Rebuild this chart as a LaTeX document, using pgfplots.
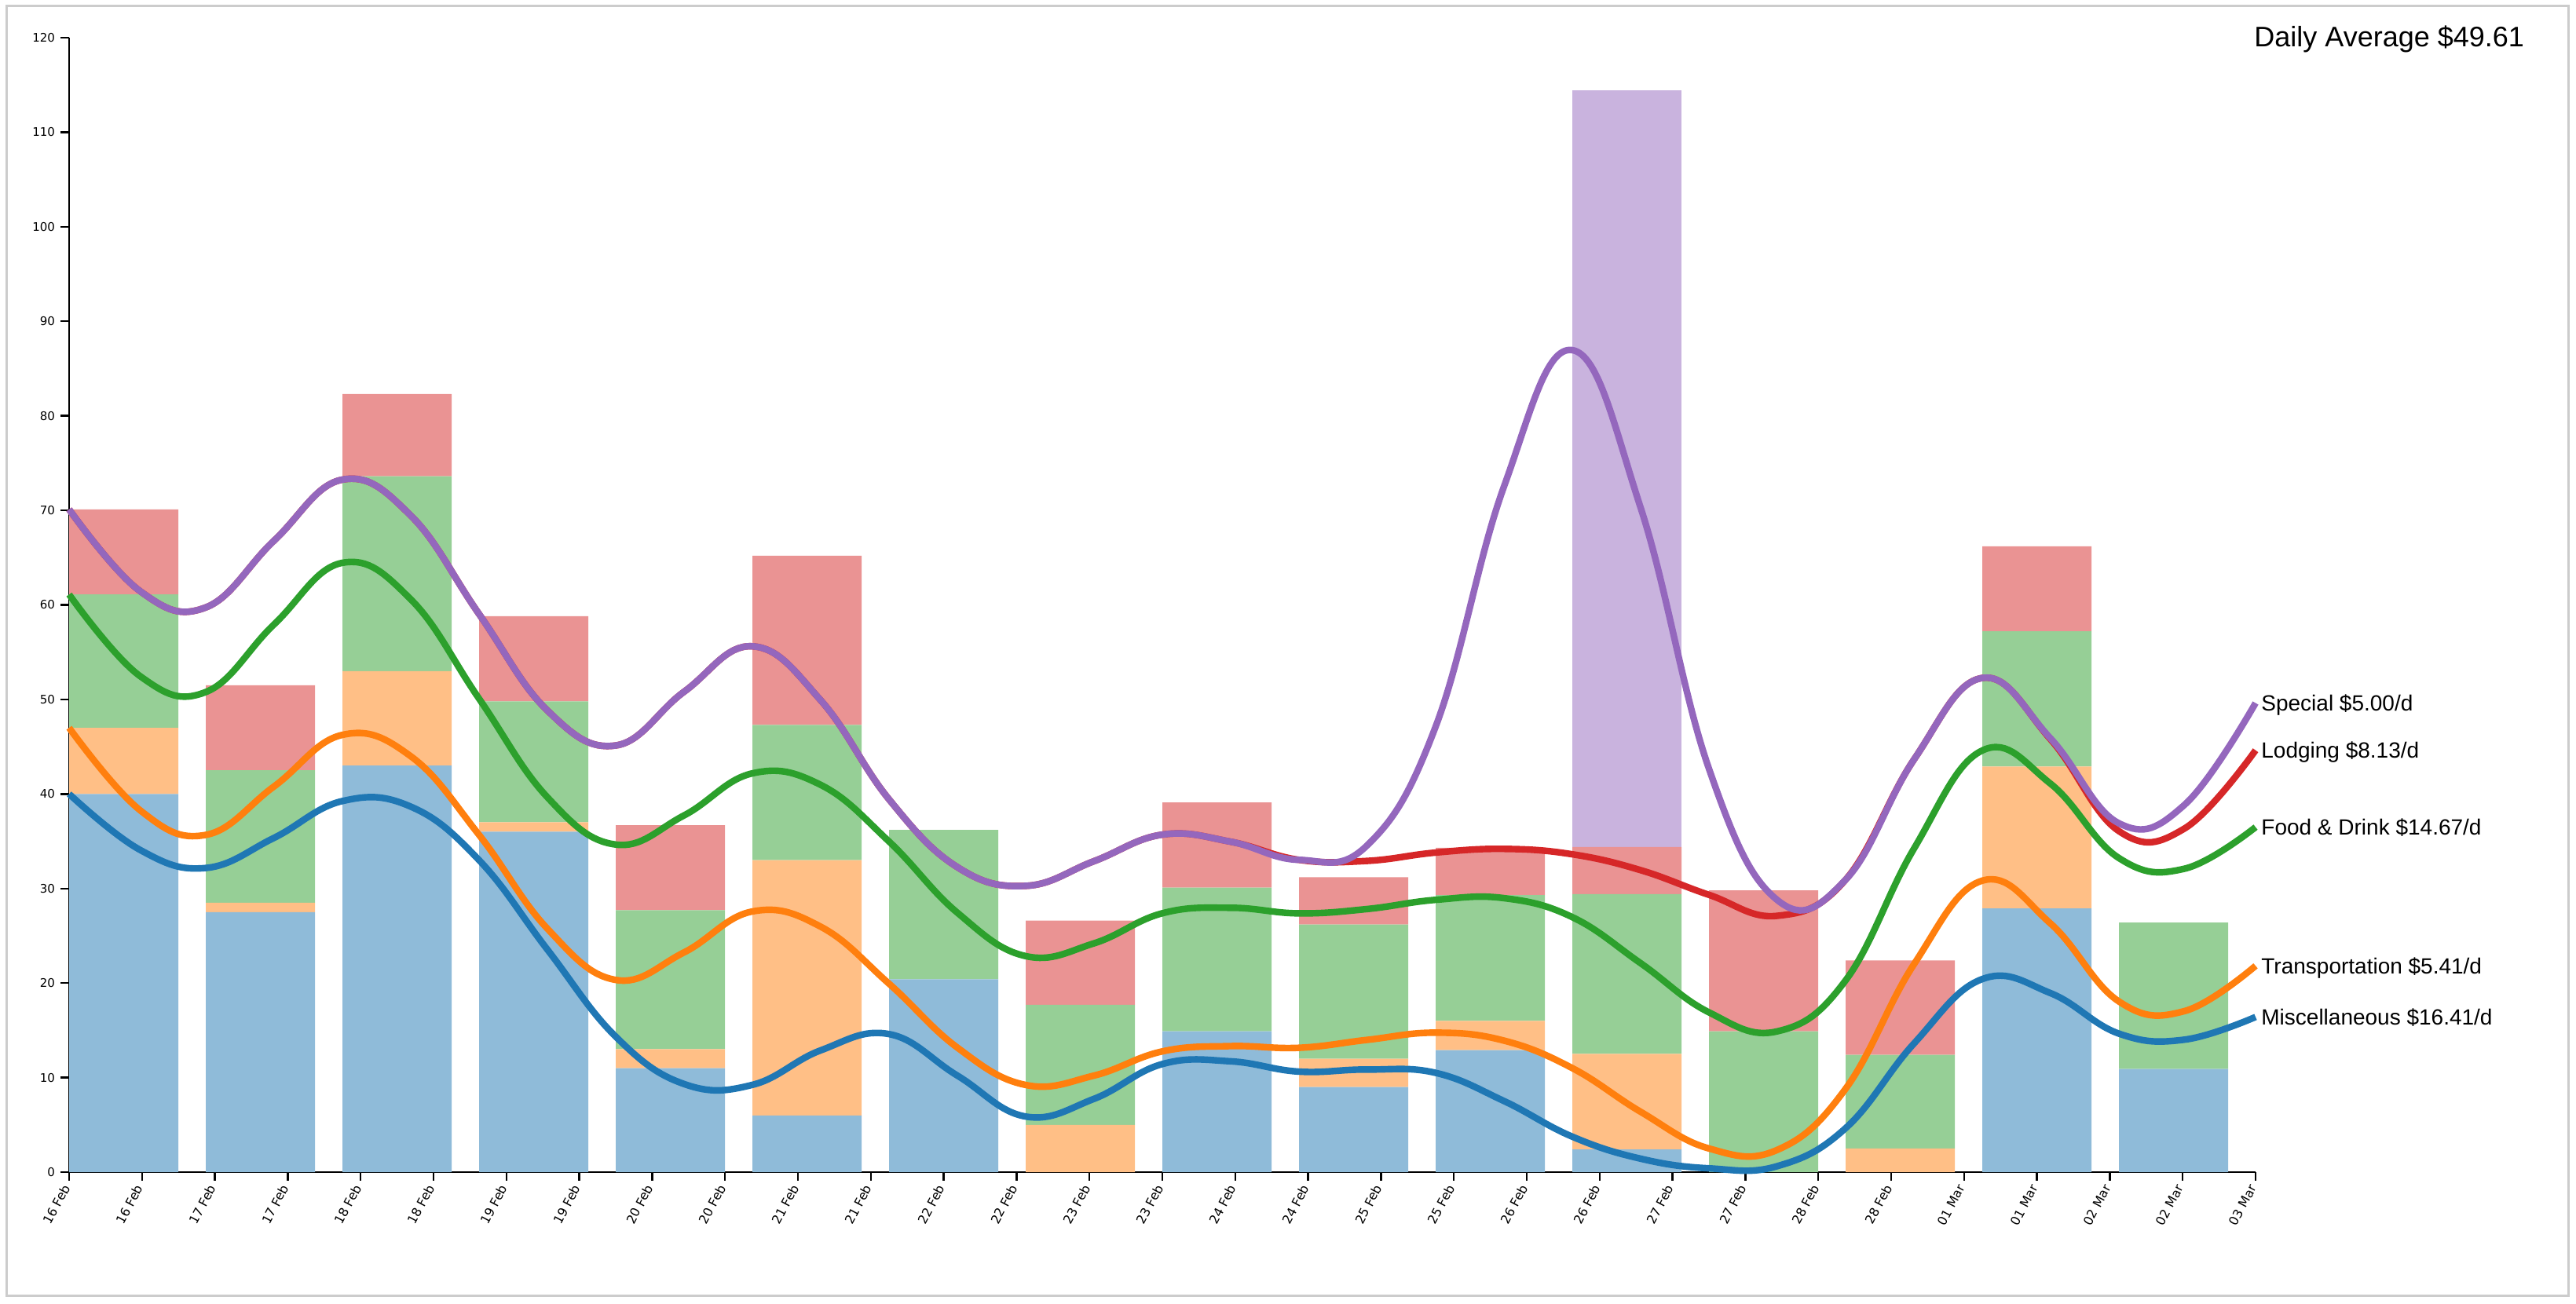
\documentclass[border=0pt]{standalone}
\usepackage{pgfplots}
\pgfplotsset{compat=1.18}
\usepackage{pgfplotstable}
\usepackage{fontspec}
\setmainfont{Liberation Sans}
\newfontfamily\tickfont{DejaVu Sans}

\definecolor{cmisc}{HTML}{1F77B4}
\definecolor{ctrans}{HTML}{FF7F0E}
\definecolor{cfood}{HTML}{2CA02C}
\definecolor{clodg}{HTML}{D62728}
\definecolor{cspec}{HTML}{9467BD}
\definecolor{cframe}{HTML}{CCCCCC}

% daily amounts per category, one bar per day (band positions)
\pgfplotstableread{
x       misc  trans food  lodg spec
0.375   40    7     14.1  9    0
1.3125  27.5  1     14    9    0
2.25    43    10    20.6  8.7  0
3.1875  36    1     12.8  9    0
4.125   11    2     14.7  9    0
5.0625  6     27    14.3  17.9 0
6.0     20.4  0     15.8  0    0
6.9375  0     5     12.7  8.9  0
7.875   14.9  0     15.2  9    0
8.8125  9     3     14.2  5    0
9.75    12.9  3.1   13.3  5    0
10.6875 2.4   10.1  16.9  5    80
11.625  0     0     14.9  14.9 0
12.5625 0     2.5   9.9   10   0
13.5    27.9  15    14.3  9    0
14.4375 10.9  0     15.5  0    0
}\bars

% smoothed running totals (values of the drawn curves)
\pgfplotstableread{
x        b      o      g      r      p
0        40     47     61.1   70.1   70.1
0.48828  34.07  38.26  52.45  61.44  61.44
0.9375   32.17  35.67  50.78  59.73  59.73
1.40625  35.36  40.80  57.94  66.80  66.80
1.875    39.25  46.25  64.45  73.25  73.25
2.34375  38.66  43.99  60.59  69.45  69.45
2.8125   33.00  35.67  50.08  59.03  59.03
3.28125  23.54  25.75  39.65  48.83  48.83
3.75     14.33  20.33  34.65  45.13  45.13
4.21875  9.32   23.24  37.73  50.81  50.81
4.6875   9.23   27.57  42.18  55.62  55.62
5.15625  12.88  25.96  40.96  49.91  49.91
5.625    14.60  19.93  34.97  39.43  39.43
6.09375  10.21  13.17  27.44  32.26  32.26
6.5625   5.88   9.22   22.85  30.28  30.28
7.03125  7.75   10.21  24.20  32.89  32.89
7.5      11.43  12.77  27.38  35.70  35.70
7.96875  11.72  13.33  27.96  34.95  34.95
8.4375   10.63  13.15  27.37  33.03  33.03
8.90625  10.85  13.99  27.83  32.92  34.58
9.375    10.50  14.75  28.80  33.80  47.13
9.84375  7.52   13.91  28.98  34.19  72.52
10.3125  3.75   11.00  26.97  33.62  86.95
10.78125 1.42   6.38   22.10  31.94  70.28
11.25    0.40   2.50   16.90  29.33  42.67
11.71875 0.63   2.35   14.89  27.11  28.78
12.1875  4.65   8.82   20.28  30.93  30.93
12.65625 13.60  21.98  34.21  43.63  43.63
13.125   20.42  30.83  44.60  52.27  52.27
13.59375 18.93  26.29  41.08  45.77  45.87
14.0625  14.65  18.05  33.22  36.07  36.90
14.51172 14.01  17.03  32.09  36.34  38.84
15       16.41  21.82  36.49  44.62  49.62
}\lines

\pgfplotsset{
  base/.style={
    width=1392pt, height=722.5pt, scale only axis,
    at={(44pt,83.5pt)}, anchor=south west,
    xmin=0, xmax=15, ymin=0, ymax=120,
  },
  curve/.style={smooth, tension=0.7, line width=4.2pt, no markers},
}

\begin{document}
\begin{tikzpicture}
  \path[use as bounding box] (0,0) rectangle (1640pt,830pt);
  \draw[cframe, line width=1.5pt] (4pt,5pt) rectangle (1635pt,826pt);

  \begin{axis}[
    base,
    axis x line=bottom, axis y line=left,
    axis line style={-, line width=1.2pt},
    tick style={black, line width=1.2pt},
    tick align=outside, major tick length=5.5pt,
    xtick={0,0.5,...,15},
    xticklabels={16 Feb,16 Feb,17 Feb,17 Feb,18 Feb,18 Feb,19 Feb,19 Feb,20 Feb,20 Feb,21 Feb,21 Feb,22 Feb,22 Feb,23 Feb,23 Feb,24 Feb,24 Feb,25 Feb,25 Feb,26 Feb,26 Feb,27 Feb,27 Feb,28 Feb,28 Feb,01 Mar,01 Mar,02 Mar,02 Mar,03 Mar},
    ytick={0,10,...,120},
    yticklabel style={font=\tickfont\fontsize{7.5}{9}\selectfont},
    xticklabel style={font=\tickfont\fontsize{8}{9}\selectfont, rotate=62, anchor=east},
    /pgf/number format/assume math mode=true,
    ybar stacked, bar width=0.75,
  ]
    \addplot[fill=cmisc!50!white, draw=none] table[x=x, y=misc] {\bars};
    \addplot[fill=ctrans!50!white, draw=none] table[x=x, y=trans] {\bars};
    \addplot[fill=cfood!50!white, draw=none] table[x=x, y=food] {\bars};
    \addplot[fill=clodg!50!white, draw=none] table[x=x, y=lodg] {\bars};
    \addplot[fill=cspec!50!white, draw=none] table[x=x, y=spec] {\bars};
  \end{axis}

  \begin{axis}[base, hide axis, clip=false]
    \addplot[curve, cmisc] table[x=x, y=b] {\lines};
    \addplot[curve, ctrans] table[x=x, y=o] {\lines};
    \addplot[curve, cfood] table[x=x, y=g] {\lines};
    \addplot[curve, clodg] table[x=x, y=r] {\lines};
    \addplot[curve, cspec] table[x=x, y=p] {\lines};
    \begin{scope}[every node/.style={anchor=base west, inner sep=0pt, xshift=3.5pt, yshift=-4.9pt, font=\fontsize{14}{17}\selectfont}]
      \node at (axis cs:15,49.62) {Special \$5.00/d};
      \node at (axis cs:15,44.62) {Lodging \$8.13/d};
      \node at (axis cs:15,36.49) {Food \& Drink \$14.67/d};
      \node at (axis cs:15,21.82) {Transportation \$5.41/d};
      \node at (axis cs:15,16.41) {Miscellaneous \$16.41/d};
    \end{scope}
  \end{axis}

  \node[anchor=base west, inner sep=0pt, font=\fontsize{18}{22}\selectfont] at (1435pt,800pt) {Daily Average \$49.61};
\end{tikzpicture}
\end{document}
